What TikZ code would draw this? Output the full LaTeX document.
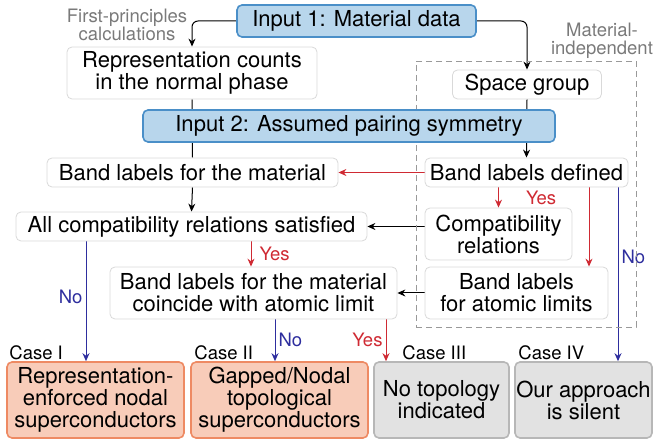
\documentclass[tikz,border=0pt]{standalone}
\usepackage{fontspec}
\setmainfont{TeX Gyre Heros}
\usetikzlibrary{arrows.meta,backgrounds}

\definecolor{inpfill}{HTML}{B8D6EC}
\definecolor{inpline}{HTML}{4A8FC8}
\definecolor{hitfill}{HTML}{F8CCB9}
\definecolor{hitline}{HTML}{EE8A63}
\definecolor{offfill}{HTML}{E2E2E2}
\definecolor{offline}{HTML}{B7B7B7}
\definecolor{yescol}{HTML}{CF2A33}
\definecolor{nocol}{HTML}{2E2E9E}
\definecolor{notecol}{HTML}{7A7A7A}

\newcommand\bigfont{\fontsize{22}{22}\selectfont}
\newcommand\smallfont{\fontsize{18.5}{18}\selectfont}

\begin{document}
\begin{tikzpicture}[x=1pt,y=-1pt,
        box/.style={draw=black!15, fill=white, rounded corners=5,
                        align=center, inner sep=0pt, font=\bigfont, line width=0.8},
        inp/.style={box, draw=inpline, fill=inpfill, line width=1.6},
        hit/.style={box, draw=hitline, fill=hitfill, line width=1.6},
        off/.style={box, draw=offline, fill=offfill, line width=1.6},
        note/.style={align=center, text=notecol, font=\smallfont, inner sep=0pt},
        cs/.style={anchor=south west, font=\smallfont, inner sep=1pt},
        frame/.style={draw=black!40, dashed, dash pattern=on 6pt off 4pt, line width=0.9},
        arr/.style={-{Stealth[length=8,width=7]}, line width=1},
        yes/.style={arr, yescol},
        no/.style={arr, nocol},
        lab/.style={font=\smallfont, inner sep=3pt}]
    \useasboundingbox (0,0) rectangle (656,443);

    % material-independent part
    \node[frame, minimum width=220, minimum height=266] (mi) at (526,194) {};
    \node[note] (mil) at (602,41) {Material-\\independent};
    \node[note] (fp) at (127,25) {First-principles\\calculations};

    % boxes
    \node[inp, minimum width=239, minimum height=32] (in1) at (356.5,21) {Input 1: Material data};
    \node[box, minimum width=250, minimum height=52] (rep) at (192,73) {Representation counts\\in the normal phase};
    \node[box, minimum width=149, minimum height=29] (sg) at (527,84.5) {Space group};
    \node[inp, minimum width=412, minimum height=32] (in2) at (349,126) {Input 2: Assumed pairing symmetry};
    \node[box, minimum width=291, minimum height=29] (bmat) at (192.5,172.5) {Band labels for the material};
    \node[box, minimum width=203, minimum height=29] (bdef) at (526.5,172.5) {Band labels defined};
    \node[box, minimum width=351, minimum height=29] (acr) at (191.5,226.5) {All compatibility relations satisfied};
    \node[box, minimum width=147, minimum height=52] (comp) at (498.5,234) {Compatibility\\relations};
    \node[box, minimum width=183, minimum height=52] (atom) at (516.5,293) {Band labels\\for atomic limits};
    \node[box, minimum width=287, minimum height=52] (coin) at (253.5,293) {Band labels for the material\\coincide with atomic limit};

    % outcomes
    \node[hit, minimum width=177, minimum height=76] (c1) at (95.5,400) {Representation-\\enforced nodal\\superconductors};
    \node[hit, minimum width=177, minimum height=76] (c2) at (279.5,400) {Gapped/Nodal\\topological\\superconductors};
    \node[off, minimum width=135, minimum height=76] (c3) at (441.5,400) {No topology\\indicated};
    \node[off, minimum width=137, minimum height=76] (c4) at (583.5,400) {Our approach\\is silent};
    \node[cs] (l1) at ([xshift=2]c1.north west) {Case I};
    \node[cs] (l2) at ([xshift=3]c2.north west) {Case II};
    \node[cs] (l3) at ([xshift=28]c3.north west) {Case III};
    \node[cs] (l4) at ([xshift=3]c4.north west) {Case IV};

    \begin{scope}[on background layer]
        \draw[arr, rounded corners=6] (in1.west) -| (rep.north);
        \draw[arr, rounded corners=6] (in1.east) -| (sg.north);
        \draw[line width=1] (rep.south) -- (bmat.north);
        \draw[arr] (sg.south) -- (bdef.north);
        \draw[yes] (bdef.west) -- (bmat.east);
        \draw[arr] (bmat.south) -- (acr.north);
        \draw[yes] (comp.north |- bdef.south) -- (comp.north)
            node[midway, right, lab, text=yescol, xshift=24] {Yes};
        \draw[yes] ([xshift=62.5]bdef.south) -- ([xshift=62.5]bdef.south |- atom.north);
        \draw[no] ([xshift=91.5]bdef.south) -- ([xshift=91.5]bdef.south |- c4.north)
            node[pos=0.4, right, lab, text=nocol] {No};
        \draw[arr] (comp.west |- acr.east) -- (acr.east);
        \draw[arr] (atom.west) -- (coin.east);
        \draw[yes] ([xshift=-2.5]coin.north |- acr.south) -- ([xshift=-2.5]coin.north)
            node[midway, right, lab, text=yescol, xshift=5] {Yes};
        \draw[no] ([xshift=-105.5]acr.south) -- ([xshift=-105.5]acr.south |- c1.north)
            node[pos=0.46, left, lab, text=nocol] {No};
        \draw[no] ([xshift=21.5]coin.south) -- ([xshift=21.5]coin.south |- c2.north)
            node[midway, right, lab, text=nocol] {No};
        \draw[yes] ([xshift=132.5]coin.south) -- ([xshift=132.5]coin.south |- c3.north)
            node[midway, left, lab, text=yescol] {Yes};
    \end{scope}
\end{tikzpicture}
\end{document}
